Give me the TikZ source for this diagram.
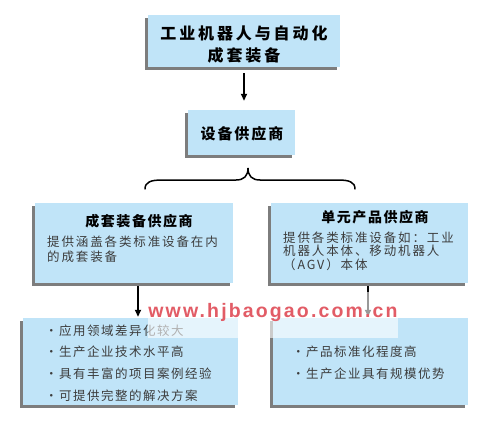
\documentclass[tikz,border=0pt]{standalone}
\usepackage{fontspec}
\setmainfont{Noto Sans CJK SC}
\newfontfamily\wmfont[LetterSpace=11]{Liberation Sans}
\usetikzlibrary{shadows,arrows.meta}
\definecolor{boxblue}{RGB}{192,228,248}
\definecolor{shadowgray}{RGB}{125,125,125}
\definecolor{wmred}{RGB}{226,92,102}
\definecolor{bodygray}{RGB}{60,60,60}
\begin{document}
\begin{tikzpicture}[x=1pt,y=-1pt,
  box/.style={fill=boxblue, inner sep=0pt,
    general shadow={fill=shadowgray, shadow xshift=-3pt, shadow yshift=-3pt}},
  txt/.style={inner sep=0pt, text=black},
  body/.style={inner sep=0pt, text=bodygray, align=left, anchor=west},
  arr/.style={-{Triangle[length=7pt,width=6pt]}, line width=1.6pt, black}]
\fill[white] (0,0) rectangle (493,423);
\useasboundingbox (0,0) rectangle (493,423);

% boxes
\node[box, minimum width=192pt, minimum height=52pt] (top) at (244,41) {};
\node[box, minimum width=107pt, minimum height=45pt] (sup) at (241.5,132.5) {};
\node[box, minimum width=198pt, minimum height=80pt] (lmid) at (134,243) {};
\node[box, minimum width=197pt, minimum height=80pt] (rmid) at (369.5,243) {};
\node[box, minimum width=215pt, minimum height=87pt] (lbot) at (130.5,361.5) {};
\node[box, minimum width=195pt, minimum height=87pt] (rbot) at (370.5,361.5) {};

% texts
\node[txt, align=center, font=\fontsize{16}{22}\selectfont\bfseries\addfontfeature{LetterSpace=18}] (toptxt) at (244,44)
  {工业机器人与自动化\\成套装备};
\node[txt, font=\fontsize{15}{18}\selectfont\bfseries\addfontfeature{LetterSpace=13}] (suptxt) at (242,134) {设备供应商};
\node[txt, font=\fontsize{14}{17}\selectfont\bfseries\addfontfeature{LetterSpace=11}] (lmidt) at (139,221) {成套装备供应商};
\node[body, font=\fontsize{12.5}{15}\selectfont\addfontfeature{LetterSpace=15}] (lmidb) at (47,249)
  {提供涵盖各类标准设备在内\\的成套装备};
\node[txt, font=\fontsize{14}{17}\selectfont\bfseries\addfontfeature{LetterSpace=11}] (rmidt) at (375,217) {单元产品供应商};
\node[body, font=\fontsize{12.5}{13.5}\selectfont\addfontfeature{LetterSpace=15}] (rmidb) at (283,251)
  {提供各类标准设备如：工业\\机器人本体、移动机器人\\（AGV）本体};
\node[body, font=\fontsize{12.5}{21.7}\selectfont\addfontfeature{LetterSpace=12}] (lbotb) at (45,363)
  {•应用领域差异化较大\\•生产企业技术水平高\\•具有丰富的项目案例经验\\•可提供完整的解决方案};
\node[body, font=\fontsize{12.5}{21.7}\selectfont\addfontfeature{LetterSpace=12}] (rbotb) at (292,363)
  {•产品标准化程度高\\•生产企业具有规模优势};

% connectors
\draw[arr, shorten <=6pt, shorten >=9pt] (top.south) -- (top.south |- sup.north);
\draw[arr, shorten <=3pt, shorten >=1pt] ([xshift=4pt]lmid.south) -- ([xshift=4pt]lmid.south |- lbot.north);
\draw[arr, shorten <=3pt, shorten >=1pt] ([xshift=-1.5pt]rmid.south) -- ([xshift=-1.5pt]rmid.south |- rbot.north);

% brace
\draw[line width=1.5pt, line cap=round]
  (145,189) .. controls (145,182) and (151,180) .. (162,180) -- (236,180)
  .. controls (244,180) and (248,176) .. (248,168)
  .. controls (248,176) and (252,180) .. (260,180) -- (338,180)
  .. controls (349,180) and (355,182) .. (355,189);

% watermark
\fill[white, opacity=0.6] (148,292) rectangle (398,338);
\node[inner sep=0pt, text=wmred, font=\fontsize{19.5}{20}\selectfont\wmfont\bfseries] (wm) at (273,312) {www.hjbaogao.com.cn};
\end{tikzpicture}
\end{document}
